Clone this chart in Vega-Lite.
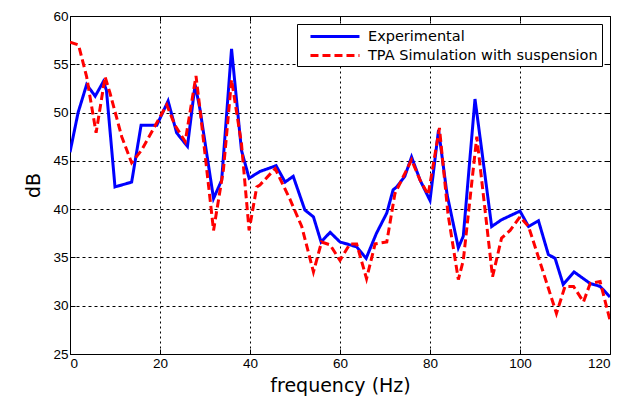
{
  "$schema": "https://vega.github.io/schema/vega-lite/v6.json",
  "width": 540,
  "height": 338,
  "autosize": {"type": "none"},
  "padding": {"left": 70, "top": 16, "right": 27, "bottom": 44},
  "background": "#ffffff",
  "config": {
    "view": {"stroke": "#000000", "strokeWidth": 1},
    "font": "Liberation Sans"
  },
  "datasets": {
    "exp": [
      {"f": 0, "db": 45.9}, {"f": 1.8, "db": 50.0}, {"f": 3.7, "db": 52.9}, {"f": 5.6, "db": 51.7},
      {"f": 7.4, "db": 53.2}, {"f": 8.1, "db": 52.3}, {"f": 10, "db": 42.3}, {"f": 13.7, "db": 42.8},
      {"f": 15.8, "db": 48.7}, {"f": 19.3, "db": 48.7}, {"f": 21.8, "db": 51.2}, {"f": 23.7, "db": 47.9},
      {"f": 26.1, "db": 46.5}, {"f": 27.8, "db": 52.9}, {"f": 28.9, "db": 50.3}, {"f": 31.9, "db": 41.1},
      {"f": 33.7, "db": 43.0}, {"f": 35.9, "db": 56.6}, {"f": 38.1, "db": 46.1}, {"f": 39.8, "db": 43.2},
      {"f": 42.2, "db": 43.9}, {"f": 45.8, "db": 44.5}, {"f": 47.8, "db": 42.8}, {"f": 49.6, "db": 43.4},
      {"f": 52.2, "db": 39.9}, {"f": 54.1, "db": 39.2}, {"f": 55.8, "db": 36.6}, {"f": 57.8, "db": 37.6},
      {"f": 60, "db": 36.6}, {"f": 63.7, "db": 36.1}, {"f": 65.8, "db": 34.9}, {"f": 68.1, "db": 37.5},
      {"f": 70.4, "db": 39.6}, {"f": 71.8, "db": 42.0}, {"f": 72.6, "db": 42.3}, {"f": 74.4, "db": 43.4},
      {"f": 75.9, "db": 45.4}, {"f": 77.8, "db": 43.0}, {"f": 80, "db": 40.9}, {"f": 81.9, "db": 48.2},
      {"f": 83.8, "db": 41.5}, {"f": 86.3, "db": 36.0}, {"f": 87.4, "db": 37.2}, {"f": 90, "db": 51.4},
      {"f": 91.5, "db": 46.1}, {"f": 93.7, "db": 38.2}, {"f": 95.9, "db": 38.9}, {"f": 100, "db": 39.8},
      {"f": 101.9, "db": 38.2}, {"f": 104.1, "db": 38.8}, {"f": 106.3, "db": 35.3}, {"f": 107.8, "db": 34.9},
      {"f": 109.6, "db": 32.2}, {"f": 112, "db": 33.5}, {"f": 115.6, "db": 32.3}, {"f": 117.8, "db": 32.0},
      {"f": 120, "db": 30.9}
    ],
    "sim": [
      {"f": 0, "db": 57.3}, {"f": 1.9, "db": 57.0}, {"f": 3.7, "db": 53.7}, {"f": 5.8, "db": 47.9},
      {"f": 7.8, "db": 53.7}, {"f": 8.9, "db": 52.0}, {"f": 11.5, "db": 47.5}, {"f": 13.7, "db": 44.8},
      {"f": 15.9, "db": 46.1}, {"f": 19.6, "db": 49.2}, {"f": 21.5, "db": 50.8}, {"f": 23.3, "db": 48.7},
      {"f": 25.6, "db": 47.0}, {"f": 28, "db": 53.8}, {"f": 28.9, "db": 50.3}, {"f": 31.9, "db": 37.8},
      {"f": 34.1, "db": 44.1}, {"f": 35.9, "db": 53.4}, {"f": 38.1, "db": 46.8}, {"f": 39.8, "db": 37.8},
      {"f": 41.5, "db": 42.3}, {"f": 42.2, "db": 42.5}, {"f": 45.6, "db": 44.2}, {"f": 48.9, "db": 41.0},
      {"f": 51.5, "db": 38.2}, {"f": 54.1, "db": 33.5}, {"f": 55.9, "db": 36.6}, {"f": 57.8, "db": 36.3},
      {"f": 60, "db": 34.7}, {"f": 62.2, "db": 36.4}, {"f": 63.7, "db": 36.4}, {"f": 65.9, "db": 32.8},
      {"f": 67.8, "db": 36.4}, {"f": 70.4, "db": 36.6}, {"f": 72.2, "db": 41.6}, {"f": 75.9, "db": 45.1},
      {"f": 77.8, "db": 43.0}, {"f": 79.6, "db": 41.5}, {"f": 82.1, "db": 48.4}, {"f": 84, "db": 39.5},
      {"f": 86.3, "db": 32.7}, {"f": 87.4, "db": 34.7}, {"f": 90.4, "db": 47.5}, {"f": 93.9, "db": 33.0},
      {"f": 95.9, "db": 37.0}, {"f": 97.8, "db": 37.8}, {"f": 100, "db": 39.2}, {"f": 101.9, "db": 38.2},
      {"f": 103.7, "db": 35.6}, {"f": 108.1, "db": 29.2}, {"f": 110, "db": 32.0}, {"f": 111.9, "db": 32.0},
      {"f": 114.1, "db": 30.4}, {"f": 115.6, "db": 32.3}, {"f": 117.8, "db": 32.5}, {"f": 120, "db": 28.5}
    ]
  },
  "resolve": {"axis": {"x": "independent", "y": "independent"}},
  "layer": [
    {
      "data": {"name": "exp"},
      "transform": [{"calculate": "'Experimental'", "as": "series"}],
      "mark": {"type": "line", "strokeWidth": 3, "clip": true},
      "encoding": {
        "x": {"field": "f", "type": "quantitative",
          "scale": {"domain": [0, 120], "nice": false},
          "axis": {"title": "frequency (Hz)", "titleFont": "DejaVu Sans", "titleFontSize": 19, "titleFontWeight": "normal", "titleColor": "#000",
            "titlePadding": 7, "values": [0, 20, 40, 60, 80, 100, 120], "labelFontSize": 13.5, "labelColor": "#000",
            "tickSize": -5, "tickColor": "#000", "labelPadding": 7, "domain": false,
            "grid": true, "gridColor": "#000", "gridDash": [2, 3], "gridOpacity": 1}},
        "y": {"field": "db", "type": "quantitative",
          "scale": {"domain": [25, 60], "nice": false, "zero": false},
          "axis": {"title": "dB", "titleFont": "DejaVu Sans", "titleFontSize": 19, "titleFontWeight": "normal", "titleColor": "#000",
            "titlePadding": 9, "values": [25, 30, 35, 40, 45, 50, 55, 60], "labelFontSize": 13.5, "labelColor": "#000",
            "tickSize": -5, "tickColor": "#000", "labelPadding": 7, "domain": false,
            "grid": true, "gridColor": "#000", "gridDash": [3, 3], "gridOpacity": 1}},
        "color": {"field": "series", "type": "nominal",
          "scale": {"domain": ["Experimental", "TPA Simulation with suspension"], "range": ["#0000ff", "#ff0000"]},
          "legend": {"orient": "none", "legendX": 227, "legendY": 8, "title": null,
            "labelFont": "DejaVu Sans", "labelFontSize": 14.5,
            "labelColor": "#000", "labelLimit": 0, "strokeColor": "#000", "fillColor": "#fff", "padding": 4,
            "symbolType": "M0.14,0H7.14", "symbolSize": 196, "symbolStrokeWidth": 3, "rowPadding": 4, "labelOffset": 50}},
        "strokeDash": {"field": "series", "type": "nominal",
          "scale": {"domain": ["Experimental", "TPA Simulation with suspension"], "range": [[1, 0], [8, 4]]},
          "legend": null}
      }
    },
    {
      "data": {"name": "sim"},
      "transform": [{"calculate": "'TPA Simulation with suspension'", "as": "series"}],
      "mark": {"type": "line", "strokeWidth": 3, "clip": true},
      "encoding": {
        "x": {"field": "f", "type": "quantitative",
          "scale": {"domain": [0, 120], "nice": false},
          "axis": {"orient": "top", "title": null, "labels": false, "values": [0, 20, 40, 60, 80, 100, 120],
            "tickSize": -5, "tickColor": "#000", "domain": false, "grid": false}},
        "y": {"field": "db", "type": "quantitative",
          "scale": {"domain": [25, 60], "nice": false, "zero": false},
          "axis": {"orient": "right", "title": null, "labels": false, "values": [25, 30, 35, 40, 45, 50, 55, 60],
            "tickSize": -5, "tickColor": "#000", "domain": false, "grid": false}},
        "color": {"field": "series", "type": "nominal",
          "scale": {"domain": ["Experimental", "TPA Simulation with suspension"], "range": ["#0000ff", "#ff0000"]}},
        "strokeDash": {"field": "series", "type": "nominal",
          "scale": {"domain": ["Experimental", "TPA Simulation with suspension"], "range": [[1, 0], [8, 4]]},
          "legend": null}
      }
    }
  ]
}
